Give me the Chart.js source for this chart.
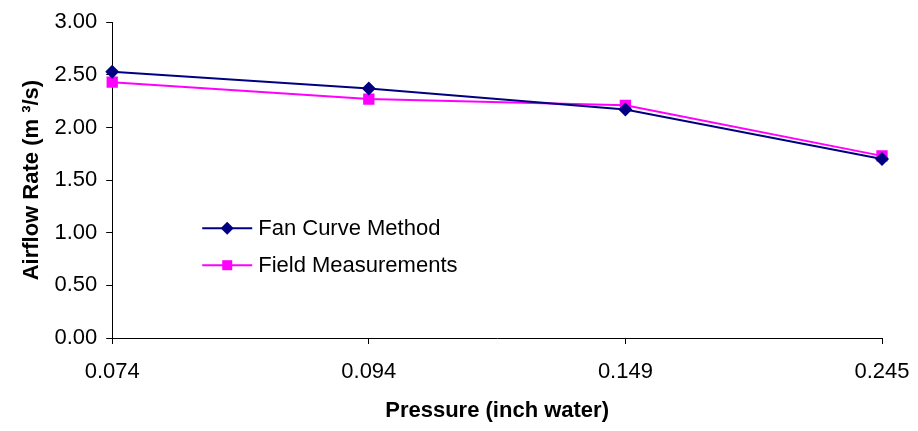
<!DOCTYPE html>
<html>
<head>
<meta charset="utf-8">
<script src="https://cdn.jsdelivr.net/npm/chart.js@4"></script>
<style>
  html, body { margin: 0; padding: 0; background: #fff; }
  #wrap { width: 918px; height: 431px; }
</style>
</head>
<body>
<div id="wrap"><canvas id="myChart" width="918" height="431"></canvas></div>
<script>
var pressures = ['0.074', '0.094', '0.149', '0.245'];
var fanCurve = [2.53, 2.37, 2.17, 1.70];
var fieldMeasurements = [2.43, 2.27, 2.21, 1.73];
var yTicks = [0, 0.5, 1, 1.5, 2, 2.5, 3];

var FONT = 'Arial, "Liberation Sans", sans-serif';

// legend drawn inside the plot, like the original
var innerLegend = {
    id: 'innerLegend',
    afterDraw: function (chart) {
        var c = chart.ctx;
        var area = chart.chartArea;
        var x0 = area.left + 90;
        var y0 = area.top + 206;
        chart.data.datasets.forEach(function (ds, i) {
            var y = y0 + i * 37;
            c.save();
            c.strokeStyle = ds.borderColor;
            c.lineWidth = 2;
            c.beginPath();
            c.moveTo(x0, y);
            c.lineTo(x0 + 50, y);
            c.stroke();
            c.fillStyle = ds.backgroundColor;
            c.beginPath();
            if (ds.pointStyle === 'rectRot') {
                c.moveTo(x0 + 25, y - 6.5);
                c.lineTo(x0 + 31.5, y);
                c.lineTo(x0 + 25, y + 6.5);
                c.lineTo(x0 + 18.5, y);
                c.closePath();
            } else {
                c.rect(x0 + 20, y - 5, 10, 10);
            }
            c.fill();
            c.fillStyle = '#000';
            c.font = '22px ' + FONT;
            c.textBaseline = 'middle';
            c.fillText(ds.label, x0 + 56, y + 1);
            c.restore();
        });
    }
};

var ctx = document.getElementById('myChart').getContext('2d');

var myChart = new Chart(ctx, {
    type: 'line',
    data: {
        labels: pressures,
        datasets: [{
            label: 'Fan Curve Method',
            data: fanCurve,
            borderColor: '#000080',
            backgroundColor: '#000080',
            borderWidth: 2,
            pointStyle: 'rectRot',
            pointRadius: 7,
            pointBorderWidth: 0
        }, {
            label: 'Field Measurements',
            data: fieldMeasurements,
            borderColor: '#FF00FF',
            backgroundColor: '#FF00FF',
            borderWidth: 2,
            pointStyle: 'rect',
            pointRadius: 8,
            pointBorderWidth: 0
        }]
    },
    options: {
        responsive: false,
        animation: false,
        layout: {
            padding: { top: 7, right: 0, left: 19, bottom: 9 }
        },
        plugins: {
            legend: { display: false },
            tooltip: { enabled: false }
        },
        scales: {
            x: {
                offset: false,
                afterFit: function (scale) {
                    // keep the last label overhang as in the original
                    scale.paddingRight = 36;
                },
                grid: {
                    display: true,
                    drawOnChartArea: false,
                    drawTicks: true,
                    tickLength: 6,
                    color: '#000'
                },
                border: { color: '#000', width: 1 },
                ticks: {
                    color: '#000',
                    font: { family: FONT, size: 22, lineHeight: 1 },
                    maxRotation: 0,
                    padding: 17
                },
                title: {
                    display: true,
                    text: 'Pressure (inch water)',
                    color: '#000',
                    font: { family: FONT, size: 22, weight: 'bold', lineHeight: 1 },
                    padding: { top: 0, bottom: 0 }
                }
            },
            y: {
                min: 0,
                max: 3,
                afterBuildTicks: function (axis) {
                    axis.ticks = yTicks.map(function (v) { return { value: v }; });
                },
                grid: {
                    display: true,
                    drawOnChartArea: false,
                    drawTicks: true,
                    tickLength: 6,
                    color: '#000'
                },
                border: { color: '#000', width: 1 },
                ticks: {
                    color: '#000',
                    font: { family: FONT, size: 22 },
                    padding: 9,
                    callback: function (v) { return Number(v).toFixed(2); }
                },
                title: {
                    display: true,
                    text: 'Airflow Rate (m \u00B3/s)',
                    color: '#000',
                    font: { family: FONT, size: 22, weight: 'bold' },
                    padding: { top: 0, bottom: 0 }
                }
            }
        }
    },
    plugins: [innerLegend]
});
</script>
</body>
</html>
